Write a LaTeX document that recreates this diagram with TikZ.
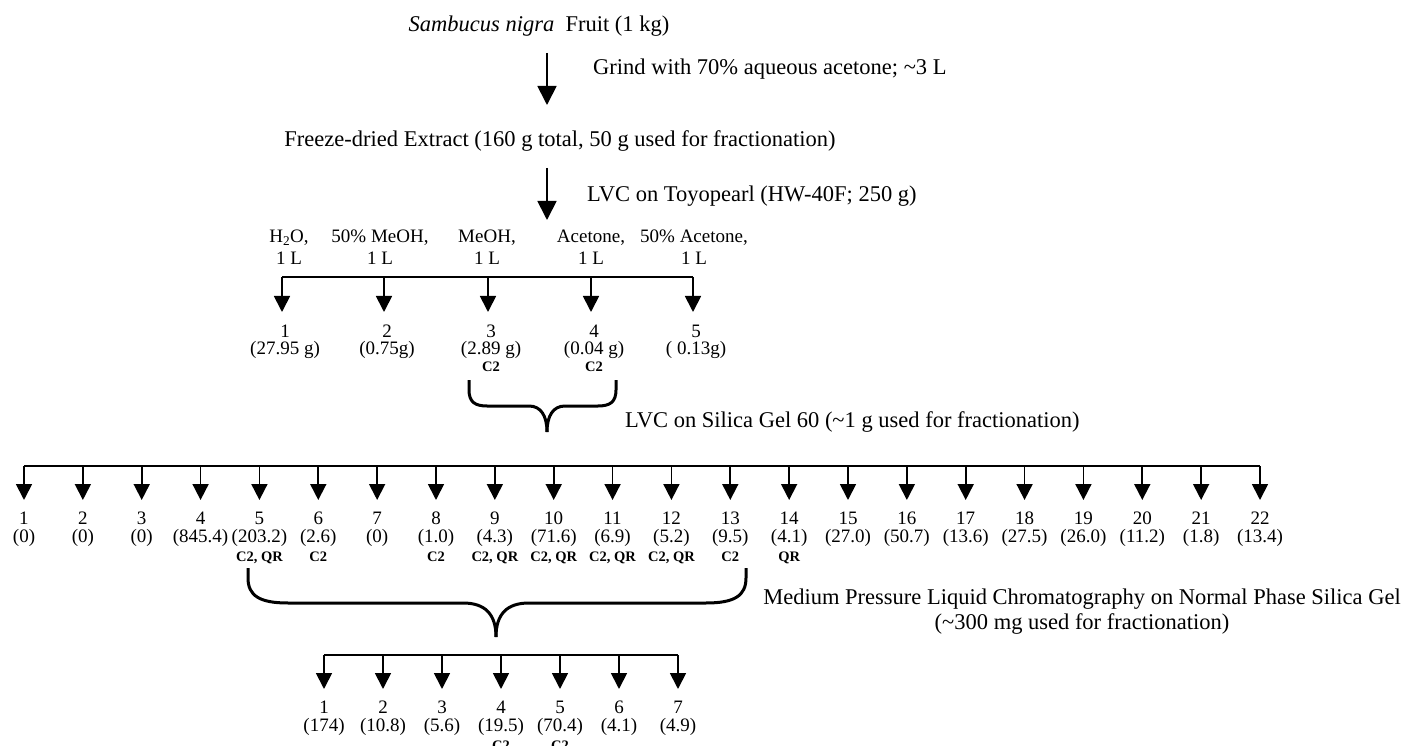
\documentclass[tikz,border=0pt]{standalone}
\usepackage{fontspec}
\setmainfont{Liberation Serif}
\usepackage{tikz}
\usetikzlibrary{arrows.meta,positioning}

\tikzset{
  stagetext/.style={font=\fontsize{22.5}{26}\selectfont,inner sep=0pt},
  solvtext/.style={font=\fontsize{19}{22}\selectfont,align=center,inner sep=0pt},
  fractext/.style={font=\fontsize{19}{22}\selectfont,inner sep=0pt,anchor=base},
  fractag/.style={font=\fontsize{14.5}{16}\selectfont\bfseries,inner sep=0pt,anchor=base},
  mainflow/.style={line width=1.8pt,-{Triangle[width=19pt,length=19pt]}},
  splitflow/.style={line width=1.8pt,-{Triangle[width=16pt,length=16pt]}},
  rail/.style={line width=1.8pt},
  curly/.style={line width=3pt},
}

\begin{document}
\begin{tikzpicture}[x=1pt,y=-1pt]
  \fill[white] (0,0) rectangle (1409,746);
  \useasboundingbox (0,0) rectangle (1409,746);

  % starting material and extract
  \node[stagetext,anchor=base] (fruit) at (539,32) {\textit{Sambucus nigra}\ \ Fruit (1 kg)};
  \coordinate (grindtop) at (547,53);
  \coordinate (grindtip) at (547,105);
  \draw[mainflow] (grindtop) -- (grindtip);
  \node[stagetext,anchor=base west] (grind) at (593,75) {Grind with 70\% aqueous acetone; \textasciitilde3 L};
  \node[stagetext,anchor=base] (extract) at (560,147) {Freeze-dried Extract (160 g total, 50 g used for fractionation)};
  \coordinate (toyotop) at (547,168);
  \coordinate (toyotip) at (547,220);
  \draw[mainflow] (toyotop) -- (toyotip);
  \node[stagetext,anchor=base west] (toyo) at (587,202) {LVC on Toyopearl (HW-40F; 250 g)};

  % Toyopearl fractions
  \coordinate (railaw) at (282,277);
  \coordinate (railae) at (693,277);
  \draw[rail] (railaw) -- (railae);
  \foreach \i/\x/\sx/\solv/\mass/\tag in {%
      1/282/289/{H\textsubscript{2}O,}/{(27.95 g)}/{},
      2/384/380/{50\% MeOH,}/{(0.75g)}/{},
      3/488/487/{MeOH,}/{(2.89 g)}/{C2},
      4/591/591/{Acetone,}/{(0.04 g)}/{C2},
      5/693/694/{50\% Acetone,}/{( 0.13g)}/{}} {
    \node[solvtext,anchor=south] (solv\i) at (\sx,265) {\solv\\1 L};
    \coordinate (tapa\i) at (\x,277);
    \coordinate (dropa\i) at (\x,312);
    \draw[splitflow] (tapa\i) -- (dropa\i);
    \node[fractext] (fra\i) at (\x+3,337) {\i};
    \node[fractext] (massa\i) at (\x+3,354) {\mass};
    \node[fractag] (taga\i) at (\x+3,371) {\tag};
  }

  % fractions 3 and 4 pooled
  \draw[curly] (469,380) -- (469,390) .. controls (469,402) and (475,406) .. (487,406)
    -- (529,406) .. controls (541,406) and (547,416) .. (547,432);
  \draw[curly] (616,380) -- (616,390) .. controls (616,402) and (610,406) .. (598,406)
    -- (565,406) .. controls (553,406) and (547,416) .. (547,432);
  \node[stagetext,anchor=base west] (silica) at (625,427) {LVC on Silica Gel 60 (\textasciitilde1 g used for fractionation)};

  % silica gel fractions
  \coordinate (railbw) at (24,466);
  \coordinate (railbe) at (1260,466);
  \draw[rail] (railbw) -- (railbe);
  \foreach \i/\mass/\tag in {1/(0)/{},2/(0)/{},3/(0)/{},4/(845.4)/{},
      5/(203.2)/{C2, QR},6/(2.6)/{C2},7/(0)/{},8/(1.0)/{C2},
      9/(4.3)/{C2, QR},10/(71.6)/{C2, QR},11/(6.9)/{C2, QR},12/(5.2)/{C2, QR},
      13/(9.5)/{C2},14/(4.1)/{QR},15/(27.0)/{},16/(50.7)/{},17/(13.6)/{},
      18/(27.5)/{},19/(26.0)/{},20/(11.2)/{},21/(1.8)/{},22/(13.4)/{}} {
    \pgfmathsetmacro\x{24+58.857*(\i-1)}
    \coordinate (tapb\i) at (\x,466);
    \coordinate (dropb\i) at (\x,500);
    \draw[splitflow] (tapb\i) -- (dropb\i);
    \node[fractext] (frb\i) at (\x,524) {\i};
    \node[fractext] (massb\i) at (\x,542) {\mass};
    \node[fractag] (tagb\i) at (\x,561) {\tag};
  }

  % fractions 5 to 13 pooled
  \draw[curly] (248,568) -- (248,578) .. controls (248,596) and (260,603) .. (288,603)
    -- (463,603) .. controls (485,603) and (496,614) .. (496,637);
  \draw[curly] (746,568) -- (746,578) .. controls (746,596) and (734,603) .. (706,603)
    -- (529,603) .. controls (507,603) and (496,614) .. (496,637);
  \node[stagetext,anchor=base] (mplc) at (1082,604) {Medium Pressure Liquid Chromatography on Normal Phase Silica Gel};
  \node[stagetext,anchor=base] (mplcload) at (1082,629) {(\textasciitilde300 mg used for fractionation)};

  % MPLC fractions
  \coordinate (railcw) at (324,655);
  \coordinate (railce) at (678,655);
  \draw[rail] (railcw) -- (railce);
  \foreach \i/\mass/\tag in {1/(174)/{},2/(10.8)/{},3/(5.6)/{},4/(19.5)/{C2},
      5/(70.4)/{C2},6/(4.1)/{},7/(4.9)/{}} {
    \pgfmathsetmacro\x{324+59*(\i-1)}
    \coordinate (tapc\i) at (\x,655);
    \coordinate (dropc\i) at (\x,689);
    \draw[splitflow] (tapc\i) -- (dropc\i);
    \node[fractext] (frc\i) at (\x,713) {\i};
    \node[fractext] (massc\i) at (\x,731) {\mass};
    \node[fractag] (tagc\i) at (\x,750) {\tag};
  }
\end{tikzpicture}
\end{document}
